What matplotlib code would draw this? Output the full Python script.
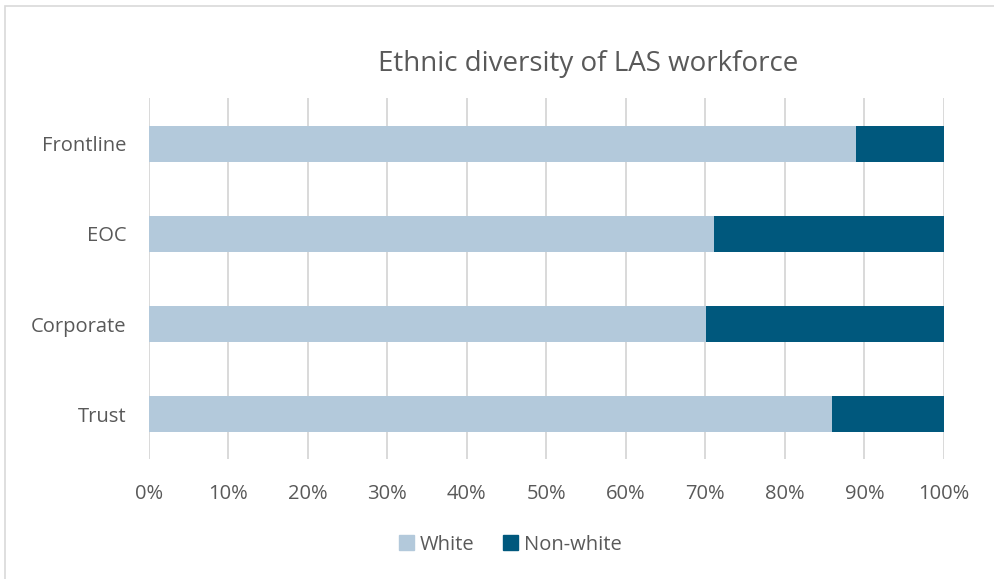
import matplotlib.pyplot as plt
from matplotlib.patches import Rectangle, Patch
from matplotlib.ticker import PercentFormatter

plt.rcParams['font.family'] = ['Open Sans', 'DejaVu Sans']

# data (share of workforce, %)
groups = ['Frontline', 'EOC', 'Corporate', 'Trust']
white = [88.9, 71.1, 70.1, 85.9]
non_white = [11.1, 28.9, 29.9, 14.1]

light_blue = '#B3C9DB'
dark_blue = '#00587D'
text_col = '#595959'

fig = plt.figure(figsize=(9.95, 5.79), dpi=100)
ax = fig.add_axes([0.1496, 0.2067, 0.7991, 0.6232])

ypos = list(range(len(groups)))
ax.barh(ypos, white, height=0.4, color=light_blue, label='White', zorder=3)
ax.barh(ypos, non_white, left=white, height=0.4, color=dark_blue,
        label='Non-white', zorder=3)

ax.set_xlim(0, 100)
ax.set_ylim(3.5, -0.5)
ax.set_xticks(range(0, 101, 10))
ax.xaxis.set_major_formatter(PercentFormatter(decimals=0))
ax.set_yticks(ypos)
ax.set_yticklabels(groups)
ax.grid(axis='x', color='#D9D9D9', linewidth=1.4, zorder=0)
for s in ax.spines.values():
    s.set_visible(False)
ax.tick_params(length=0, labelsize=14.5, colors=text_col)
ax.tick_params(axis='x', pad=18)
ax.tick_params(axis='y', pad=16)

fig.text(0.591, 0.89, 'Ethnic diversity of LAS workforce', ha='center',
         va='center', fontsize=20, color=text_col)

handles = [Patch(color=light_blue), Patch(color=dark_blue)]
fig.legend(handles, ['White', 'Non-white'], loc='center',
           bbox_to_anchor=(0.513, 0.059), ncol=2, frameon=False,
           fontsize=14.5, labelcolor=text_col, handlelength=0.75,
           handleheight=0.75, handletextpad=0.3, columnspacing=1.4)

# chart frame
fig.patches.append(Rectangle((0.005, -0.01), 1.2, 1.0, transform=fig.transFigure,
                             fill=False, edgecolor='#D9D9D9', linewidth=1.2))

fig.savefig('out.png', dpi=100)
